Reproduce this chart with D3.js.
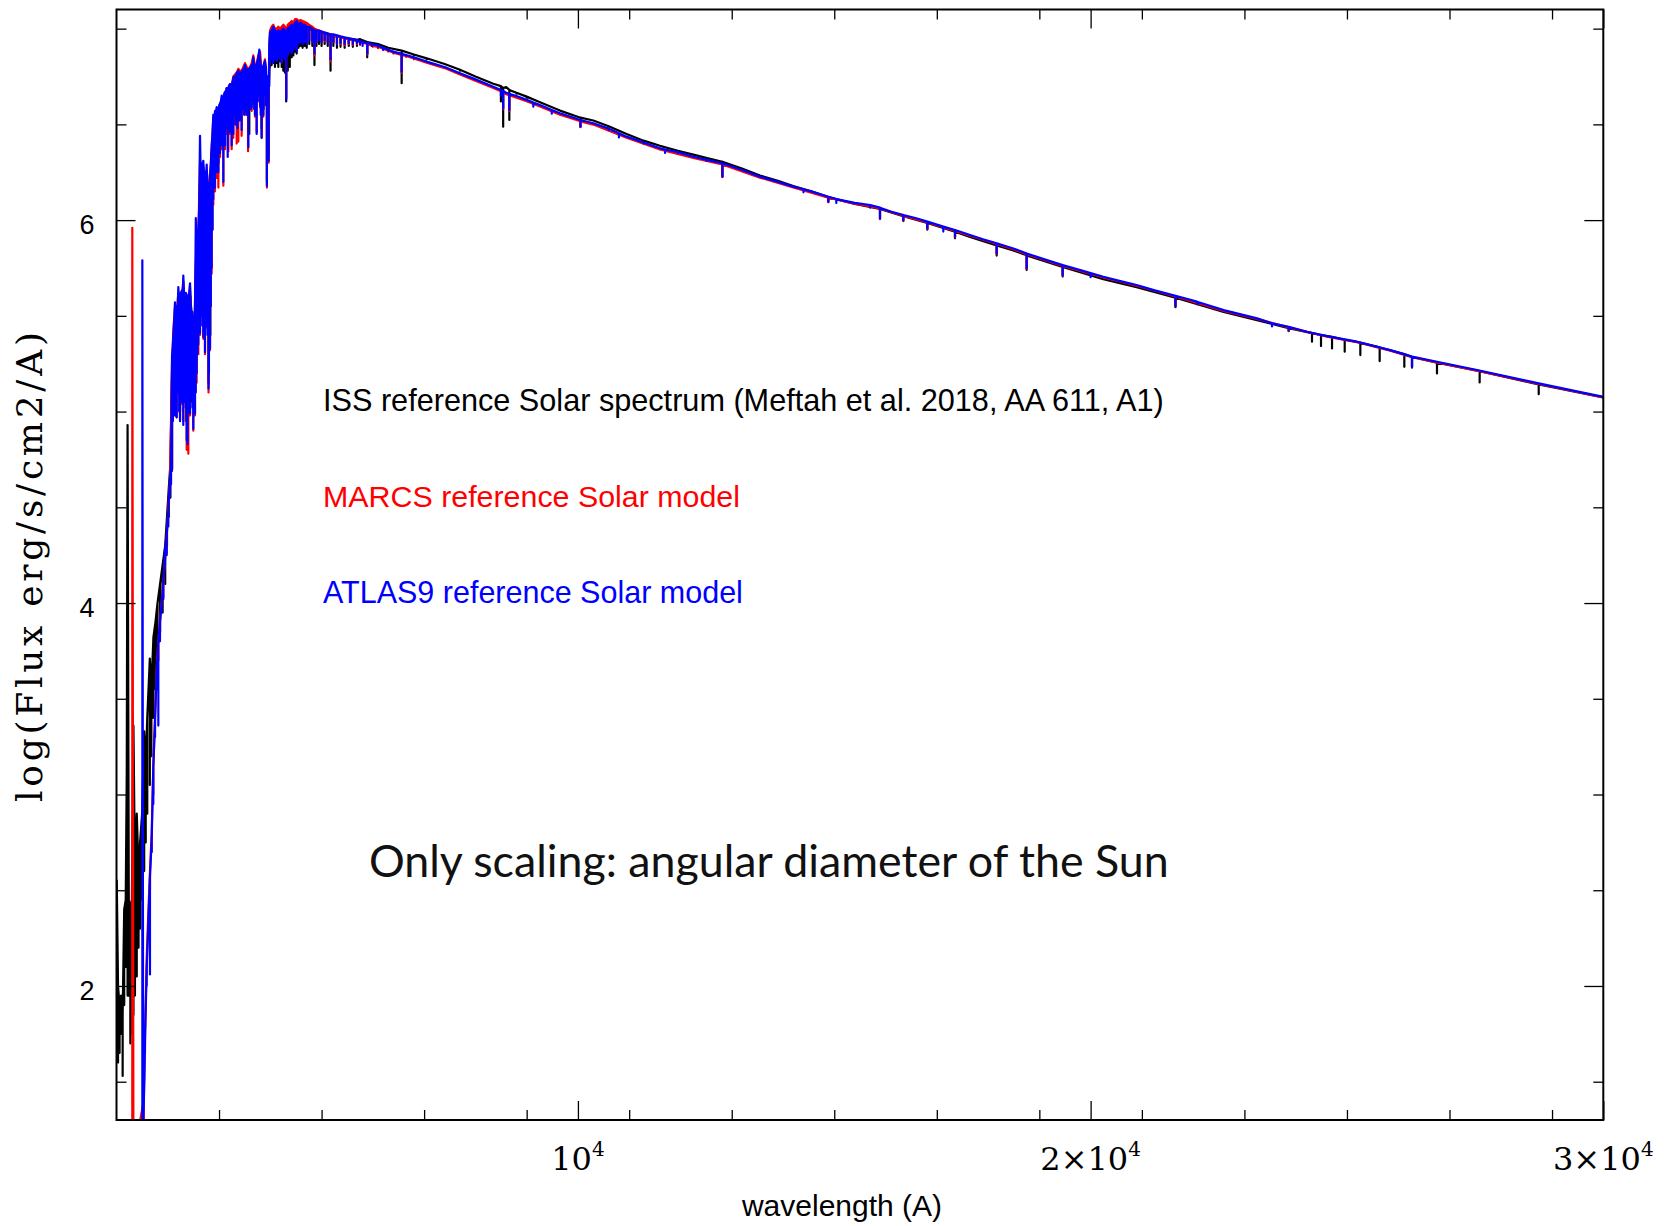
<!DOCTYPE html>
<html>
<head>
<meta charset="utf-8">
<script src="https://cdn.jsdelivr.net/npm/d3@7"></script>
<style>
  html, body { margin: 0; padding: 0; background: #fff; }
  svg { display: block; }
</style>
</head>
<body>
<svg id="chart" width="1677" height="1226"></svg>
<script>
// Solar spectral irradiance, log10 flux (erg/s/cm2/A) versus wavelength (A).
// Each entry is a wavelength bin: [wavelength, lowest value, highest value].

const issSpectrum = [
  [1005, 1.62, 2.55], [1030, 1.60, 2.00], [1060, 1.65, 1.90], [1090, 1.75, 1.95],
  [1120, 1.53, 1.85], [1150, 1.90, 2.40], [1180, 2.10, 2.45], [1200, 2.15, 3.12],
  [1216, 1.95, 4.93], [1240, 1.95, 2.45], [1270, 1.70, 2.40], [1300, 1.75, 2.45],
  [1330, 1.85, 3.36], [1360, 1.95, 2.60], [1395, 2.05, 2.90], [1430, 2.20, 2.60],
  [1460, 2.30, 2.75], [1500, 2.45, 2.90], [1540, 2.60, 3.33], [1570, 2.75, 3.15],
  [1600, 2.90, 3.40], [1650, 3.05, 3.71], [1680, 3.20, 3.55], [1720, 3.40, 3.82],
  [1760, 3.55, 3.90], [1800, 3.70, 4.00], [1850, 3.85, 4.10], [1900, 3.95, 4.20],
  [1950, 4.10, 4.30], [1985, 4.30, 4.45], [2020, 4.45, 4.60], [2050, 4.55, 4.72],
  [2083, 4.70, 5.20], [2120, 5.05, 5.40], [2160, 5.05, 5.50], [2200, 5.10, 5.55],
  [2240, 5.00, 5.50], [2280, 5.10, 5.55], [2320, 5.05, 5.60], [2360, 4.95, 5.55],
  [2400, 5.00, 5.50], [2440, 5.05, 5.60], [2480, 5.05, 5.45], [2520, 5.00, 5.45],
  [2560, 5.20, 5.90], [2600, 5.40, 5.90], [2640, 5.50, 6.30], [2680, 5.45, 6.25],
  [2720, 5.40, 6.20], [2760, 5.50, 6.20], [2795, 5.15, 6.15], [2830, 5.40, 6.20],
  [2870, 5.95, 6.40], [2910, 6.25, 6.52], [2950, 6.28, 6.55], [2990, 6.30, 6.55],
  [3030, 6.40, 6.60], [3070, 6.45, 6.62], [3110, 6.42, 6.64], [3150, 6.48, 6.67],
  [3190, 6.48, 6.68], [3230, 6.50, 6.69], [3270, 6.52, 6.72], [3310, 6.55, 6.73],
  [3350, 6.55, 6.75], [3390, 6.55, 6.75], [3430, 6.52, 6.76], [3470, 6.60, 6.77],
  [3510, 6.58, 6.78], [3550, 6.58, 6.78], [3590, 6.45, 6.77], [3630, 6.60, 6.79],
  [3670, 6.62, 6.82], [3710, 6.58, 6.79], [3750, 6.62, 6.82], [3790, 6.65, 6.86],
  [3830, 6.48, 6.77], [3870, 6.58, 6.80], [3934, 6.20, 6.63], [3968, 6.33, 6.64],
  [3994, 6.80, 6.96], [4026, 6.81, 6.97], [4058, 6.83, 6.98], [4091, 6.80, 6.97],
  [4124, 6.82, 6.97], [4156, 6.80, 6.97], [4189, 6.83, 6.97], [4222, 6.80, 6.97],
  [4254, 6.78, 6.98], [4287, 6.77, 6.97], [4310, 6.62, 6.95], [4340, 6.78, 6.98],
  [4380, 6.80, 7.00], [4417, 6.85, 7.01], [4449, 6.86, 7.00], [4481, 6.88, 7.02],
  [4514, 6.87, 7.03], [4550, 6.90, 7.01], [4590, 6.91, 7.02], [4630, 6.90, 7.01],
  [4670, 6.91, 7.01], [4710, 6.90, 7.00], [4760, 6.92, 7.00], [4820, 6.91, 6.99],
  [4861, 6.81, 6.99], [4900, 6.91, 6.985], [4950, 6.92, 6.985], [5000, 6.91, 6.98],
  [5060, 6.92, 6.975], [5120, 6.91, 6.97], [5175, 6.78, 6.965], [5230, 6.91, 6.96],
  [5300, 6.90, 6.96], [5370, 6.905, 6.955], [5450, 6.90, 6.95], [5530, 6.91, 6.948],
  [5610, 6.905, 6.945], [5690, 6.91, 6.942], [5750, 6.935, 6.945], [5890, 6.85, 6.93],
  [6100, 6.915, 6.92], [6300, 6.90, 6.90], [6562, 6.715, 6.885], [6800, 6.86, 6.865],
  [7050, 6.84, 6.845], [7400, 6.815, 6.815], [7700, 6.78, 6.785], [8000, 6.75, 6.75],
  [8350, 6.712, 6.712], [8498, 6.62, 6.70], [8542, 6.488, 6.69], [8600, 6.69, 6.695],
  [8662, 6.523, 6.68], [8800, 6.66, 6.665], [9000, 6.64, 6.645], [9260, 6.615, 6.615],
  [9650, 6.572, 6.572], [10049, 6.488, 6.535], [10300, 6.52, 6.52], [10600, 6.488, 6.49],
  [10950, 6.45, 6.45], [11280, 6.415, 6.415], [11600, 6.388, 6.388], [11950, 6.362, 6.362],
  [12250, 6.342, 6.342], [12500, 6.322, 6.325], [12818, 6.227, 6.305], [13200, 6.27, 6.27],
  [13550, 6.233, 6.233], [13900, 6.205, 6.205], [14200, 6.178, 6.178], [14550, 6.15, 6.15],
  [14884, 6.096, 6.12], [15400, 6.085, 6.085], [15892, 6.009, 6.058], [16347, 5.995, 6.02],
  [16815, 5.95, 5.985], [17355, 5.905, 5.94], [17648, 5.912, 5.912], [18168, 5.815, 5.868],
  [18493, 5.842, 5.842], [18753, 5.74, 5.816], [19455, 5.705, 5.755], [20248, 5.692, 5.692],
  [20898, 5.650, 5.650], [21655, 5.545, 5.595], [22595, 5.52, 5.52], [23246, 5.478, 5.478],
  [23863, 5.42, 5.436], [24318, 5.365, 5.41], [24494, 5.342, 5.40], [24709, 5.330, 5.39],
  [24956, 5.313, 5.375], [25261, 5.295, 5.36], [25638, 5.264, 5.335], [26119, 5.234, 5.30],
  [26269, 5.231, 5.285], [26756, 5.199, 5.255], [27588, 5.152, 5.211], [28740, 5.091, 5.142],
  [30000, 5.074, 5.074]
];

const marcsModel = [
  [1308, 1.00, 5.96], [1330, 1.00, 1.10], [1530, 1.20, 1.40], [1556, 1.65, 1.75],
  [1589, 2.05, 2.15], [1620, 2.30, 2.38], [1653, 2.50, 2.60], [1686, 2.70, 2.80],
  [1718, 3.00, 3.15], [1751, 3.30, 3.40], [1784, 3.55, 3.66], [1816, 3.70, 3.80],
  [1848, 3.82, 3.91], [1913, 4.03, 4.10], [1979, 4.26, 4.35], [2044, 4.55, 4.65],
  [2083, 4.70, 5.25], [2108, 5.00, 5.42], [2141, 4.98, 5.55], [2174, 4.97, 5.52],
  [2206, 5.12, 5.62], [2239, 4.96, 5.55], [2271, 5.04, 5.60], [2303, 4.95, 5.68],
  [2336, 5.12, 5.53], [2369, 4.80, 5.58], [2401, 4.78, 5.55], [2434, 4.98, 5.65],
  [2466, 5.12, 5.47], [2498, 4.90, 5.45], [2531, 4.98, 5.48], [2563, 5.15, 5.95],
  [2596, 5.30, 5.92], [2629, 5.40, 6.31], [2661, 5.50, 6.22], [2693, 5.38, 6.28],
  [2726, 5.30, 6.22], [2759, 5.44, 6.26], [2795, 5.10, 6.17], [2824, 5.32, 6.20],
  [2856, 5.72, 6.37], [2888, 6.08, 6.53], [2921, 6.15, 6.55], [2954, 6.22, 6.58],
  [2987, 6.17, 6.55], [3019, 6.33, 6.60], [3052, 6.37, 6.63], [3084, 6.18, 6.60],
  [3117, 6.37, 6.66], [3149, 6.45, 6.69], [3182, 6.36, 6.68], [3214, 6.45, 6.71],
  [3246, 6.37, 6.70], [3278, 6.43, 6.75], [3311, 6.50, 6.76], [3344, 6.40, 6.77],
  [3376, 6.41, 6.79], [3409, 6.55, 6.78], [3441, 6.44, 6.78], [3474, 6.58, 6.80],
  [3506, 6.55, 6.82], [3540, 6.56, 6.80], [3566, 6.36, 6.79], [3604, 6.60, 6.80],
  [3637, 6.57, 6.82], [3668, 6.61, 6.86], [3701, 6.54, 6.80], [3734, 6.46, 6.82],
  [3766, 6.63, 6.86], [3800, 6.59, 6.88], [3831, 6.43, 6.78], [3864, 6.54, 6.80],
  [3896, 6.66, 6.84], [3934, 6.17, 6.66], [3968, 6.30, 6.66], [3994, 6.83, 6.99],
  [4026, 6.85, 7.01], [4058, 6.84, 7.02], [4091, 6.85, 7.00], [4124, 6.84, 7.00],
  [4156, 6.86, 7.01], [4189, 6.85, 7.00], [4222, 6.83, 7.01], [4254, 6.86, 7.02],
  [4287, 6.85, 7.01], [4310, 6.64, 6.98], [4340, 6.87, 7.02], [4380, 6.89, 7.03],
  [4417, 6.88, 7.04], [4449, 6.90, 7.03], [4481, 6.91, 7.05], [4514, 6.89, 7.05],
  [4550, 6.93, 7.04], [4590, 6.94, 7.045], [4630, 6.93, 7.04], [4670, 6.94, 7.035],
  [4710, 6.93, 7.03], [4760, 6.94, 7.02], [4820, 6.93, 7.01], [4861, 6.86, 7.00],
  [4900, 6.93, 6.995], [4950, 6.94, 6.99], [5000, 6.93, 6.985], [5060, 6.935, 6.98],
  [5120, 6.93, 6.975], [5175, 6.83, 6.97], [5230, 6.93, 6.965], [5300, 6.92, 6.96],
  [5370, 6.92, 6.955], [5450, 6.915, 6.95], [5530, 6.92, 6.945], [5610, 6.915, 6.94],
  [5690, 6.92, 6.935], [5750, 6.915, 6.93], [5893, 6.865, 6.92], [6000, 6.905, 6.91],
  [6100, 6.898, 6.905], [6200, 6.888, 6.895], [6300, 6.88, 6.885], [6400, 6.87, 6.875],
  [6562, 6.77, 6.862], [6650, 6.852, 6.857], [6800, 6.840, 6.844], [7050, 6.822, 6.822],
  [7400, 6.794, 6.794], [7700, 6.760, 6.760], [8000, 6.728, 6.728], [8350, 6.690, 6.690],
  [8542, 6.58, 6.668], [8600, 6.658, 6.658], [8662, 6.57, 6.652], [9000, 6.621, 6.621],
  [9260, 6.594, 6.594], [9650, 6.551, 6.551], [10049, 6.485, 6.516], [10300, 6.499, 6.499],
  [10950, 6.430, 6.430], [11600, 6.369, 6.369], [12250, 6.325, 6.325], [12818, 6.225, 6.291],
  [13550, 6.222, 6.222], [14200, 6.170, 6.170], [14884, 6.093, 6.117], [15400, 6.086, 6.086],
  [15892, 6.005, 6.061], [16347, 5.997, 6.023], [16815, 5.953, 5.988], [17355, 5.909, 5.944],
  [17648, 5.918, 5.918], [18168, 5.822, 5.875], [18493, 5.848, 5.848], [18753, 5.745, 5.822],
  [19455, 5.71, 5.761], [20248, 5.700, 5.700], [20898, 5.657, 5.657], [21655, 5.55, 5.601],
  [22595, 5.526, 5.526], [23246, 5.484, 5.484], [23863, 5.422, 5.44], [24611, 5.391, 5.391],
  [25196, 5.362, 5.362], [25846, 5.318, 5.318], [26269, 5.23, 5.284], [26756, 5.257, 5.257],
  [27537, 5.214, 5.214], [28740, 5.144, 5.144], [30000, 5.074, 5.074]
];

const atlasModel = [
  [1504, 1.00, 5.79], [1520, 1.00, 1.25], [1545, 1.52, 1.52], [1556, 1.71, 1.71],
  [1589, 2.00, 2.09], [1620, 2.25, 2.32], [1653, 2.06, 2.57], [1686, 2.70, 2.76],
  [1718, 2.95, 3.14], [1751, 3.30, 3.38], [1784, 3.55, 3.65], [1816, 3.36, 3.80],
  [1848, 3.80, 3.90], [1880, 3.95, 4.00], [1913, 4.02, 4.09], [1946, 4.20, 4.28],
  [1979, 4.25, 4.35], [2011, 4.40, 4.49], [2044, 4.55, 4.65], [2064, 4.62, 4.72],
  [2083, 4.69, 5.29], [2100, 4.95, 5.35], [2120, 5.03, 5.45], [2141, 4.98, 5.57],
  [2158, 5.05, 5.48], [2174, 4.97, 5.55], [2190, 5.10, 5.50], [2206, 5.15, 5.65],
  [2222, 5.00, 5.58], [2239, 4.95, 5.57], [2255, 5.10, 5.62], [2271, 5.05, 5.63],
  [2287, 5.15, 5.55], [2303, 4.93, 5.71], [2320, 5.05, 5.60], [2336, 5.15, 5.55],
  [2352, 5.02, 5.62], [2369, 4.85, 5.61], [2385, 4.83, 5.50], [2401, 5.00, 5.58],
  [2418, 5.10, 5.62], [2434, 4.99, 5.67], [2450, 5.08, 5.55], [2466, 5.15, 5.49],
  [2482, 5.02, 5.52], [2498, 4.91, 5.45], [2514, 5.05, 5.50], [2531, 4.99, 5.49],
  [2547, 5.10, 6.01], [2563, 5.20, 5.75], [2580, 5.30, 5.85], [2596, 5.35, 5.95],
  [2612, 5.45, 6.05], [2629, 5.41, 6.44], [2645, 5.50, 6.20], [2661, 5.51, 6.25],
  [2677, 5.45, 6.28], [2693, 5.39, 6.31], [2710, 5.50, 6.22], [2726, 5.31, 6.25],
  [2742, 5.48, 6.20], [2759, 5.45, 6.29], [2775, 5.40, 6.15], [2795, 5.12, 6.19],
  [2803, 5.20, 6.10], [2824, 5.33, 6.23], [2840, 5.55, 6.30], [2856, 5.75, 6.39],
  [2872, 5.95, 6.45], [2888, 6.11, 6.55], [2905, 6.25, 6.52], [2921, 6.17, 6.57],
  [2937, 6.30, 6.55], [2954, 6.25, 6.59], [2970, 6.35, 6.58], [2987, 6.25, 6.55],
  [3003, 6.40, 6.60], [3019, 6.35, 6.61], [3035, 6.42, 6.62], [3052, 6.39, 6.65],
  [3068, 6.45, 6.63], [3084, 6.20, 6.61], [3100, 6.45, 6.66], [3117, 6.39, 6.67],
  [3133, 6.48, 6.66], [3149, 6.49, 6.69], [3169, 6.33, 6.65], [3190, 6.50, 6.70],
  [3214, 6.46, 6.71], [3230, 6.52, 6.70], [3246, 6.39, 6.69], [3262, 6.50, 6.72],
  [3278, 6.45, 6.74], [3295, 6.58, 6.75], [3311, 6.55, 6.75], [3327, 6.50, 6.74],
  [3344, 6.55, 6.77], [3360, 6.48, 6.76], [3376, 6.57, 6.78], [3392, 6.52, 6.76],
  [3409, 6.58, 6.76], [3425, 6.55, 6.77], [3441, 6.47, 6.77], [3458, 6.58, 6.78],
  [3474, 6.60, 6.79], [3490, 6.55, 6.77], [3506, 6.57, 6.81], [3522, 6.60, 6.79],
  [3540, 6.55, 6.79], [3556, 6.58, 6.78], [3572, 6.38, 6.78], [3588, 6.60, 6.79],
  [3604, 6.62, 6.79], [3620, 6.58, 6.80], [3637, 6.59, 6.81], [3652, 6.62, 6.80],
  [3668, 6.63, 6.85], [3685, 6.58, 6.80], [3701, 6.55, 6.79], [3718, 6.60, 6.81],
  [3734, 6.45, 6.81], [3750, 6.62, 6.83], [3766, 6.65, 6.85], [3786, 6.69, 6.89],
  [3800, 6.60, 6.83], [3812, 6.55, 6.81], [3831, 6.43, 6.77], [3848, 6.60, 6.80],
  [3864, 6.55, 6.79], [3880, 6.65, 6.82], [3896, 6.67, 6.83], [3914, 6.60, 6.80],
  [3934, 6.18, 6.65], [3950, 6.55, 6.75], [3968, 6.31, 6.65], [3980, 6.70, 6.92],
  [3994, 6.82, 6.98], [4026, 6.84, 6.99], [4058, 6.82, 7.01], [4091, 6.84, 6.99],
  [4124, 6.83, 6.98], [4156, 6.85, 6.99], [4189, 6.84, 6.98], [4222, 6.82, 6.99],
  [4254, 6.85, 7.00], [4287, 6.84, 6.99], [4310, 6.63, 6.97], [4340, 6.86, 7.00],
  [4380, 6.88, 7.01], [4417, 6.87, 7.02], [4449, 6.89, 7.01], [4481, 6.90, 7.03],
  [4514, 6.88, 7.04], [4550, 6.92, 7.02], [4590, 6.93, 7.03], [4630, 6.92, 7.02],
  [4670, 6.93, 7.02], [4710, 6.92, 7.01], [4760, 6.94, 7.01], [4820, 6.93, 7.00],
  [4861, 6.87, 6.99], [4900, 6.93, 6.99], [4950, 6.94, 6.99], [5000, 6.93, 6.985],
  [5060, 6.94, 6.98], [5120, 6.93, 6.975], [5175, 6.84, 6.97], [5230, 6.93, 6.97],
  [5300, 6.92, 6.965], [5370, 6.925, 6.96], [5450, 6.92, 6.955], [5530, 6.925, 6.95],
  [5610, 6.92, 6.945], [5690, 6.925, 6.94], [5750, 6.92, 6.935], [5800, 6.91, 6.93],
  [5893, 6.87, 6.925], [5980, 6.91, 6.92], [6100, 6.905, 6.912], [6200, 6.89, 6.90],
  [6300, 6.885, 6.89], [6400, 6.875, 6.88], [6562, 6.775, 6.868], [6650, 6.86, 6.862],
  [6800, 6.845, 6.850], [7050, 6.828, 6.828], [7400, 6.80, 6.80], [7700, 6.767, 6.767],
  [8000, 6.735, 6.735], [8350, 6.697, 6.697], [8498, 6.65, 6.68], [8542, 6.584, 6.675],
  [8600, 6.665, 6.665], [8662, 6.575, 6.66], [8800, 6.648, 6.648], [9000, 6.628, 6.628],
  [9130, 6.592, 6.614], [9260, 6.601, 6.601], [9490, 6.556, 6.575], [9650, 6.558, 6.558],
  [10049, 6.488, 6.523], [10300, 6.506, 6.506], [10600, 6.47, 6.478], [10800, 6.432, 6.454],
  [10950, 6.436, 6.436], [11280, 6.40, 6.405], [11600, 6.375, 6.375], [11700, 6.351, 6.369],
  [11950, 6.35, 6.355], [12250, 6.331, 6.331], [12500, 6.31, 6.316], [12818, 6.227, 6.297],
  [13200, 6.262, 6.262], [13550, 6.227, 6.227], [13900, 6.20, 6.20], [14200, 6.175, 6.175],
  [14400, 6.145, 6.161], [14550, 6.15, 6.15], [14884, 6.096, 6.122], [15040, 6.09, 6.11],
  [15400, 6.09, 6.09], [15700, 6.065, 6.079], [15892, 6.009, 6.065], [16100, 6.045, 6.045],
  [16347, 6.00, 6.027], [16600, 6.01, 6.01], [16815, 5.957, 5.992], [17127, 5.94, 5.966],
  [17355, 5.913, 5.948], [17648, 5.922, 5.922], [17900, 5.90, 5.90], [18168, 5.826, 5.879],
  [18493, 5.852, 5.852], [18753, 5.748, 5.826], [19100, 5.795, 5.795], [19455, 5.713, 5.765],
  [19850, 5.735, 5.735], [20000, 5.702, 5.723], [20248, 5.704, 5.704], [20600, 5.68, 5.68],
  [20898, 5.661, 5.661], [21250, 5.633, 5.633], [21655, 5.552, 5.605], [22075, 5.56, 5.574],
  [22595, 5.530, 5.530], [23246, 5.487, 5.487], [23538, 5.445, 5.461], [23863, 5.425, 5.443],
  [24221, 5.417, 5.417], [24611, 5.394, 5.394], [25196, 5.365, 5.365], [25846, 5.321, 5.321],
  [26269, 5.231, 5.287], [26756, 5.260, 5.260], [27537, 5.217, 5.217], [28740, 5.147, 5.147],
  [30000, 5.077, 5.077]
];

const seriesNames = [
  "ISS reference Solar spectrum (Meftah et al. 2018, AA 611, A1)",
  "MARCS reference Solar model",
  "ATLAS9 reference Solar model"
];
const seriesColors = ["#000000", "#ff0000", "#0000ff"];

const waveDomain = [1000, 30000];
const fluxDomain = [1.3, 7.1];
const majorWaveTicks = [10000, 20000, 30000];
const majorWaveLabels = [["10", "4"], ["2\u00d710", "4"], ["3\u00d710", "4"]];
const minorWaveStep = 2000;
const fluxTicks = [2, 4, 6];
const minorFluxStep = 0.5;

const xTitle = "wavelength (A)";
const yTitle = "log(Flux erg/s/cm2/A)";
const note = "Only scaling: angular diameter of the Sun";

// ---------------------------------------------------------------------------

const svg = d3.select("#chart");
svg.append("rect").attr("width", 1677).attr("height", 1226).attr("fill", "#fff");

const box = { left: 116.5, right: 1603.3, top: 9.5, bottom: 1120 };
const x = d3.scaleLinear().domain(waveDomain).range([box.left, box.right]);
const y = d3.scaleLinear().domain(fluxDomain).range([box.bottom, box.top]);

svg.append("defs").append("clipPath").attr("id", "plot-clip")
  .append("rect")
  .attr("x", box.left).attr("y", box.top)
  .attr("width", box.right - box.left).attr("height", box.bottom - box.top);

// Each bin is traced top -> bottom -> top, so absorption lines become narrow
// spikes and densely sampled noisy stretches render as a filled band.
function binPoints(bins) {
  const pts = [];
  bins.forEach(([w, lo, hi]) => {
    if (hi === lo) { pts.push([w, hi]); return; }
    pts.push([w, hi], [w, lo], [w, hi]);
  });
  return pts;
}

const line = d3.line().x(d => x(d[0])).y(d => y(d[1]));

const spectra = [issSpectrum, marcsModel, atlasModel];
const plotArea = svg.append("g").attr("clip-path", "url(#plot-clip)");
plotArea.selectAll("path.spectrum")
  .data(spectra)
  .join("path")
  .attr("class", "spectrum")
  .attr("d", d => line(binPoints(d)))
  .attr("fill", "none")
  .attr("stroke", (d, i) => seriesColors[i])
  .attr("stroke-width", 2.2)
  .attr("stroke-linejoin", "round");

// ---- axes: inward ticks on all four sides ----
const minorWave = d3.range(waveDomain[0] + minorWaveStep, waveDomain[1] + 1, minorWaveStep)
  .filter(v => !majorWaveTicks.includes(v));
const minorFlux = d3.range(1.5, fluxDomain[1], minorFluxStep)
  .filter(v => !fluxTicks.includes(v));

function tickLayer(axis, tx, ty) {
  const g = svg.append("g").attr("transform", `translate(${tx},${ty})`).call(axis);
  g.select(".domain").remove();
  g.selectAll(".tick line").attr("stroke", "#000").attr("stroke-width", 1.3);
  return g;
}

tickLayer(d3.axisBottom(x).tickValues(minorWave).tickSize(-10).tickFormat(""), 0, box.bottom);
tickLayer(d3.axisBottom(x).tickValues(majorWaveTicks).tickSize(-19).tickFormat(""), 0, box.bottom);
tickLayer(d3.axisTop(x).tickValues(minorWave).tickSize(-10).tickFormat(""), 0, box.top);
tickLayer(d3.axisTop(x).tickValues(majorWaveTicks).tickSize(-19).tickFormat(""), 0, box.top);
tickLayer(d3.axisLeft(y).tickValues(minorFlux).tickSize(-10).tickFormat(""), box.left, 0);
tickLayer(d3.axisRight(y).tickValues(minorFlux).tickSize(-10).tickFormat(""), box.right, 0);
tickLayer(d3.axisRight(y).tickValues(fluxTicks).tickSize(-19).tickFormat(""), box.right, 0);

const yLabelled = tickLayer(
  d3.axisLeft(y).tickValues(fluxTicks).tickSize(-19).tickPadding(22).tickFormat(d3.format("d")),
  box.left, 0);
yLabelled.attr("font-family", "'Liberation Sans', Arial, sans-serif").attr("font-size", 27);
yLabelled.selectAll(".tick text").attr("fill", "#000").attr("dy", "0.5em");

// wavelength labels in powers-of-ten notation
const xLabels = svg.append("g")
  .attr("font-family", "'DejaVu Serif', serif")
  .attr("fill", "#000");
majorWaveTicks.forEach((w, i) => {
  const t = xLabels.append("text")
    .attr("x", x(w)).attr("y", 1170)
    .attr("text-anchor", "middle")
    .attr("font-size", 32);
  t.append("tspan").text(majorWaveLabels[i][0]);
  t.append("tspan").attr("font-size", 20).attr("dy", -14).text(majorWaveLabels[i][1]);
});

// frame
svg.append("rect")
  .attr("x", box.left).attr("y", box.top)
  .attr("width", box.right - box.left).attr("height", box.bottom - box.top)
  .attr("fill", "none").attr("stroke", "#000").attr("stroke-width", 2);

// axis titles
svg.append("text")
  .attr("x", 842).attr("y", 1216)
  .attr("text-anchor", "middle")
  .attr("font-family", "'Liberation Sans', Arial, sans-serif")
  .attr("font-size", 30)
  .attr("fill", "#000")
  .text(xTitle);

svg.append("text")
  .attr("transform", "translate(42,567) rotate(-90)")
  .attr("text-anchor", "middle")
  .attr("font-family", "'DejaVu Serif', serif")
  .attr("font-size", 36)
  .attr("textLength", 470)
  .attr("lengthAdjust", "spacing")
  .attr("fill", "#000")
  .text(yTitle);

// width-fitting helper for the in-plot texts
function fitWidth(sel, width) {
  const fs = parseFloat(sel.attr("font-size"));
  const w = sel.node().getComputedTextLength();
  sel.attr("font-size", (fs * width / w).toFixed(2));
}

const legendBaselines = [411, 507, 603];
const legendWidths = [841, 417, 420];
seriesNames.forEach((name, i) => {
  const t = svg.append("text")
    .attr("x", 323).attr("y", legendBaselines[i])
    .attr("font-family", "'Liberation Sans', Arial, sans-serif")
    .attr("font-size", 28)
    .attr("fill", seriesColors[i])
    .text(name);
  fitWidth(t, legendWidths[i]);
});

const noteText = svg.append("text")
  .attr("x", 369).attr("y", 877)
  .attr("font-family", "Lato, 'Open Sans', sans-serif")
  .attr("font-size", 42)
  .attr("fill", "#111")
  .text(note);
fitWidth(noteText, 800);
</script>
</body>
</html>
